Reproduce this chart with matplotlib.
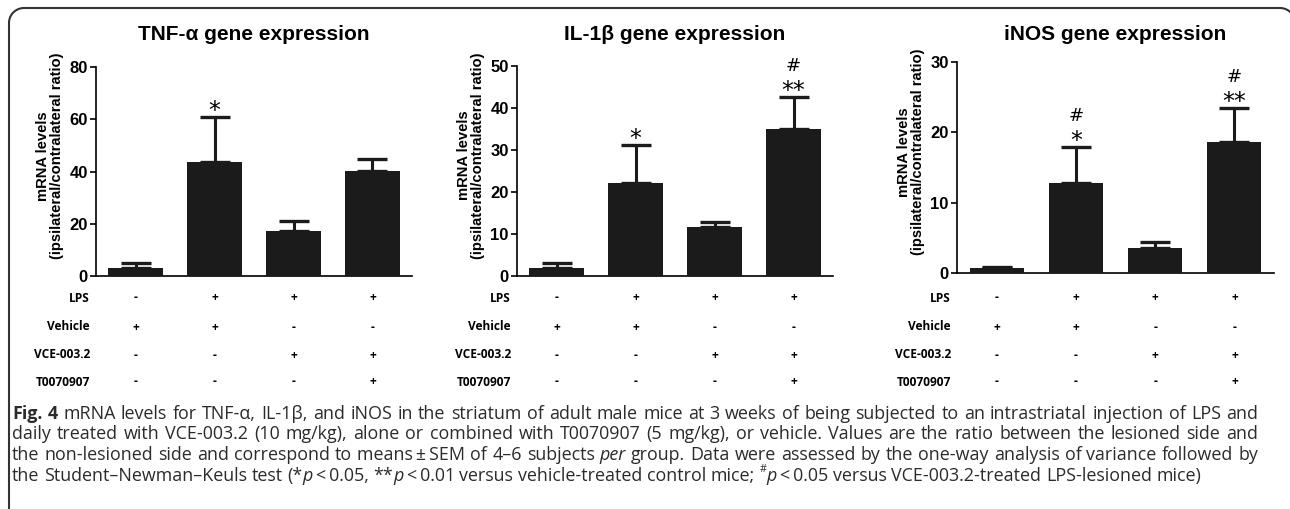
import matplotlib
matplotlib.use('Agg')

import re

import matplotlib.pyplot as plt
import numpy as np
from matplotlib.lines import Line2D
from matplotlib.transforms import blended_transform_factory

# # # # # # # # # # # # # # # # # # # # # # # # # # # # # # # # # #
# Data
# # # # # # # # # # # # # # # # # # # # # # # # # # # # # # # # # #
titles = ['TNF-\u03b1 gene expression', 'IL-1\u03b2 gene expression', 'iNOS gene expression']
y_limits = [80, 50, 30]
y_ticks = [[0, 20, 40, 60, 80], [0, 10, 20, 30, 40, 50], [0, 10, 20, 30]]

tnf_mean = [3.0, 43.6, 17.2, 40.1]
tnf_sem = [2.0, 17.4, 3.9, 4.6]
il1b_mean = [2.0, 22.1, 11.7, 35.0]
il1b_sem = [1.2, 9.1, 1.1, 7.6]
inos_mean = [0.7, 12.8, 3.5, 18.6]
inos_sem = [0.2, 5.1, 0.9, 4.8]

stars = [['', '*', '', ''], ['', '*', '', '**'], ['', '*', '', '**']]
hashes = [['', '', '', ''], ['', '', '', '#'], ['', '#', '', '#']]

row_labels = ['LPS', 'Vehicle', 'VCE-003.2', 'T0070907']
row_signs = [['-', '+', '+', '+'],
             ['+', '+', '-', '-'],
             ['-', '-', '+', '+'],
             ['-', '-', '-', '+']]

caption_lines = [
    [('Fig. 4', 'bold'), (' mRNA levels for TNF-\u03b1, IL-1\u03b2, and iNOS in the striatum of adult male mice at 3 weeks of being subjected to an intrastriatal injection of LPS and', 'normal')],
    [('daily treated with VCE-003.2 (10 mg/kg), alone or combined with T0070907 (5 mg/kg), or vehicle. Values are the ratio between the lesioned side and', 'normal')],
    [('the non-lesioned side and correspond to means\u2009\u00b1\u2009SEM of 4\u20136 subjects ', 'normal'), ('per', 'italic'),
     (' group. Data were assessed by the one-way analysis of variance followed by', 'normal')],
    [('the Student\u2013Newman\u2013Keuls test (*', 'normal'), ('p', 'italic'), ('\u2009<\u20090.05, **', 'normal'), ('p', 'italic'),
     ('\u2009<\u20090.01 versus vehicle-treated control mice; ', 'normal'), ('#', 'sup'), ('p', 'italic'),
     ('\u2009<\u20090.05 versus VCE-003.2-treated LPS-lesioned mice)', 'normal')],
]

means = [tnf_mean, il1b_mean, inos_mean]
sems = [tnf_sem, il1b_sem, inos_sem]

# # # # # # # # # # # # # # # # # # # # # # # # # # # # # # # # # #
# Layout (pixels)
# # # # # # # # # # # # # # # # # # # # # # # # # # # # # # # # # #
W, H = 1290, 509
axes_px = [(96, 412, 67, 276), (517, 833, 66, 276), (957, 1274, 62, 273)]
row_y = [298, 327, 355, 382]
title_y = 35
BAR_COLOR = '#1b1b1b'

plt.rcParams['font.family'] = ['Liberation Sans', 'DejaVu Sans']

fig = plt.figure(figsize=(W / 100, H / 100), dpi=100)


def fig_xy(px, py):
    return np.asarray(px) / W, 1 - np.asarray(py) / H


# frame: rounded top corners, left side down the page, right side off the image
rad = 15
fl, ft, fr = 9, 8, 1295
a1 = np.linspace(np.pi, np.pi / 2, 20)
a2 = np.linspace(np.pi / 2, 0, 20)
fx = np.concatenate([[fl], fl + rad + rad * np.cos(a1), fr - rad + rad * np.cos(a2), [fr]])
fy = np.concatenate([[H + 5], ft + rad - rad * np.sin(a1), ft + rad - rad * np.sin(a2), [H + 5]])
frx, fry = fig_xy(fx, fy)
fig.add_artist(Line2D(frx, fry, transform=fig.transFigure, color='#333333',
                      linewidth=1.5, clip_on=False))

x = np.arange(4)
for i in range(3):
    l, r, t, b = axes_px[i]
    ax = fig.add_axes([l / W, 1 - b / H, (r - l) / W, (b - t) / H])
    ax.bar(x, means[i], width=0.684, color=BAR_COLOR, zorder=3)
    ax.errorbar(x, means[i], yerr=[np.zeros(4), sems[i]], fmt='none',
                ecolor=BAR_COLOR, elinewidth=2.2, capsize=11, capthick=2.4, zorder=2)
    ax.set_xlim(-0.5, 3.5)
    ax.set_ylim(0, y_limits[i])
    ax.set_yticks(y_ticks[i])
    ax.set_xticks([])
    for side in ['top', 'right']:
        ax.spines[side].set_visible(False)
    for side in ['left', 'bottom']:
        ax.spines[side].set_linewidth(1.2)
    ax.tick_params(axis='y', direction='out', length=4, width=1.2, pad=2,
                   labelsize=12)
    for lab in ax.get_yticklabels():
        lab.set_fontweight('bold')
    fig.text((l + r) / 2 / W, 1 - title_y / H, titles[i], ha='center', va='center',
             fontsize=15, fontweight='bold')
    ax.set_ylabel('mRNA levels\n(ipsilateral/contralateral ratio)', fontsize=10.6,
                  fontweight='bold', linespacing=1.0)
    ax.yaxis.set_label_coords(-32 / (r - l), 0.574)

    # significance marks above the error caps
    for j in range(4):
        top = means[i][j] + sems[i][j]
        if stars[i][j]:
            ax.annotate(stars[i][j], (j, top), xytext=(0, -0.7), textcoords='offset points',
                        ha='center', va='baseline', fontsize=17, family='DejaVu Sans')
        if hashes[i][j]:
            ax.annotate(hashes[i][j], (j, top), xytext=(0, 18.7), textcoords='offset points',
                        ha='center', va='baseline', fontsize=13, family='DejaVu Sans')

    # treatment table under the bars
    tr = blended_transform_factory(ax.transData, fig.transFigure)
    tr_lab = blended_transform_factory(ax.transAxes, fig.transFigure)
    for k, lab in enumerate(row_labels):
        yy = 1 - row_y[k] / H
        ax.text(-6 / (r - l), yy, lab, transform=tr_lab, ha='right', va='center',
                fontsize=8.6, fontweight='bold', family='Open Sans')
        for j in range(4):
            ax.text(j, yy, row_signs[k][j], transform=tr, ha='center', va='center',
                    fontsize=8.6, fontweight='bold', family='Open Sans')

# # # # # # # # # # # # # # # # # # # # # # # # # # # # # # # # # #
# Caption: justified lines, last line left aligned
# # # # # # # # # # # # # # # # # # # # # # # # # # # # # # # # # #
renderer = fig.canvas.get_renderer()
CAP_FONT = 'Open Sans'
CAP_SIZE = 12.9
CAP_COLOR = '#2b2b2b'
cap_y = [412, 432, 453, 474]
cap_left, cap_right = 12.0, 1258.0


def style_kw(style, size):
    kw = dict(family=CAP_FONT, fontsize=size, color=CAP_COLOR)
    if style == 'bold':
        kw['fontweight'] = 'bold'
    elif style == 'italic':
        kw['fontstyle'] = 'italic'
    elif style == 'sup':
        kw['fontsize'] = size * 0.6
    return kw


def seg_width(s, **kw):
    # advance width, spaces included
    t1 = fig.text(0, 0, s + '|', **kw)
    t2 = fig.text(0, 0, '|', **kw)
    w = t1.get_window_extent(renderer).width - t2.get_window_extent(renderer).width
    t1.remove()
    t2.remove()
    return w


def tokenize(line):
    tokens = []
    gap = False
    for s, style in line:
        for p in re.split(r'( )', s):
            if p == ' ':
                gap = True
            elif p:
                tokens.append((p, style, gap))
                gap = False
    return tokens


space_w = seg_width(' ', **style_kw('normal', CAP_SIZE))

for n, line in enumerate(caption_lines):
    tokens = tokenize(line)
    widths = [seg_width(p, **style_kw(st, CAP_SIZE)) for p, st, g in tokens]
    n_gaps = sum(1 for p, st, g in tokens if g)
    natural = sum(widths) + n_gaps * space_w
    gap_w = space_w
    if n < len(caption_lines) - 1 and n_gaps:
        gap_w = space_w + (cap_right - cap_left - natural) / n_gaps
    xpos = cap_left
    base_y = 1 - cap_y[n] / H
    for (p, st, g), w in zip(tokens, widths):
        if g:
            xpos += gap_w
        dy = 6 / H if st == 'sup' else 0
        fig.text(xpos / W, base_y + dy, p, va='center_baseline', **style_kw(st, CAP_SIZE))
        xpos += w

fig.savefig('out.png', dpi=100)
